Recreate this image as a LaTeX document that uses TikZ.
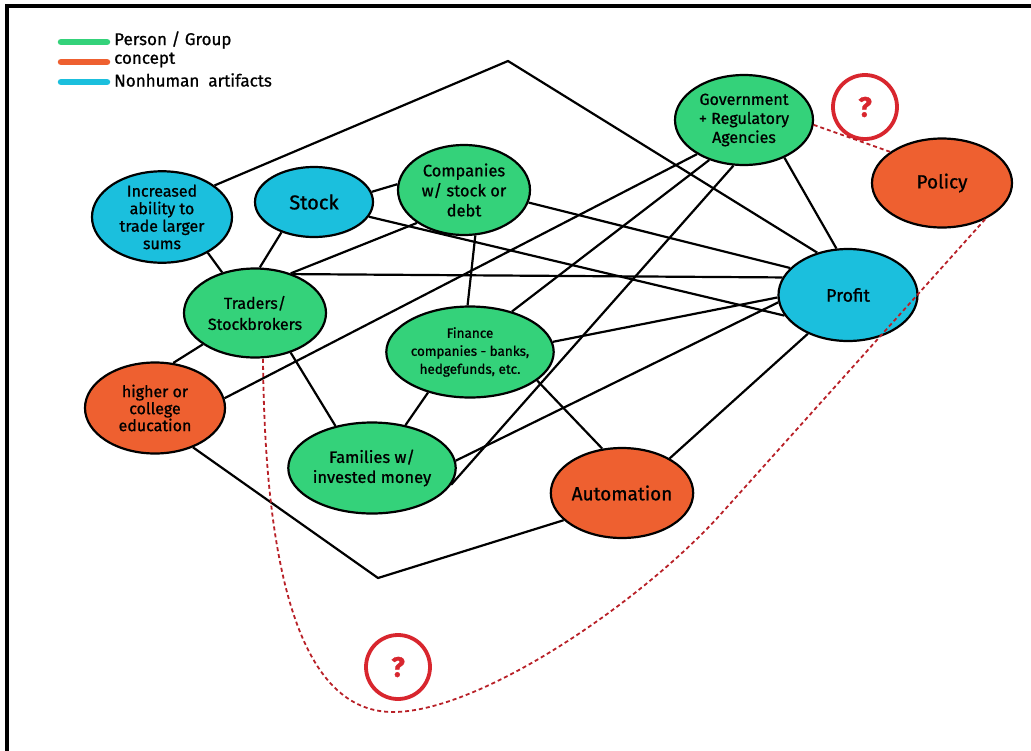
\documentclass[tikz,border=0pt]{standalone}
\usepackage{fontspec}
\setmainfont{Fira Sans}[FakeBold=0.9]
\usetikzlibrary{shapes.geometric,backgrounds}
\definecolor{pgreen}{HTML}{34D27A}
\definecolor{corange}{HTML}{EE6030}
\definecolor{nblue}{HTML}{1BBFDD}
\definecolor{qred}{HTML}{D8262E}
\begin{document}
\begin{tikzpicture}[x=1pt,y=-1pt,
  ent/.style={ellipse, draw=black, line width=2.2pt, inner sep=0pt, align=center, text=black},
  person/.style={ent, fill=pgreen},
  concept/.style={ent, fill=corange},
  artifact/.style={ent, fill=nblue},
  link/.style={line width=2.2pt, black},
  qdash/.style={qred!85!black, line width=1.8pt, dash pattern=on 4pt off 3pt},
  qmark/.style={circle, draw=qred, line width=3.8pt, minimum size=64pt, inner sep=0pt, text=qred, font=\fontsize{28}{28}\selectfont\bfseries},
  legline/.style={line width=6.5pt, line cap=round},
  legtext/.style={anchor=west, font=\fontsize{17}{17}\selectfont, inner sep=0pt}]

\useasboundingbox (0,0) rectangle (1031,750);
\draw[line width=4pt] (7,6) rectangle (1045,770);

% legend
\draw[legline, pgreen] (61,42) -- (107,42);
\draw[legline, corange] (61,62) -- (107,62);
\draw[legline, nblue] (61,82) -- (107,82);
\node[legtext] (l1) at (114,40) {Person / Group};
\node[legtext] (l2) at (114,60) {concept};
\node[legtext] (l3) at (114,80) {Nonhuman\ \ artifacts};

% nodes
\node[artifact, minimum width=140pt, minimum height=90pt, font=\fontsize{16}{17.5}\selectfont] (inc) at (162,217) {Increased\\ability to\\trade larger\\sums};
\node[artifact, minimum width=118pt, minimum height=70pt, font=\fontsize{20}{22}\selectfont] (stock) at (314,202) {Stock};
\node[person, minimum width=132pt, minimum height=90pt, font=\fontsize{16.5}{20}\selectfont] (comp) at (464,190) {Companies\\w/ stock or\\debt};
\node[person, minimum width=138pt, minimum height=90pt, font=\fontsize{16}{19}\selectfont] (gov) at (744,120) {Government\\+ Regulatory\\Agencies};
\node[concept, minimum width=140pt, minimum height=89pt, font=\fontsize{19}{22}\selectfont] (policy) at (942,183) {Policy};
\node[artifact, minimum width=139pt, minimum height=92pt, font=\fontsize{18}{22}\selectfont] (profit) at (848,295) {Profit};
\node[person, minimum width=142pt, minimum height=89pt, font=\fontsize{16}{21}\selectfont] (trad) at (255,313) {Traders/\\Stockbrokers};
\node[person, minimum width=139pt, minimum height=91pt, font=\fontsize{13.5}{18}\selectfont] (fin) at (470,352) {Finance\\companies - banks,\\hedgefunds, etc.};
\node[concept, minimum width=140pt, minimum height=91pt, font=\fontsize{16}{17}\selectfont] (edu) at (155,408) {higher or\\college\\education};
\node[person, minimum width=139pt, minimum height=91pt, font=\fontsize{16.5}{20}\selectfont] (fam) at (372,468) {Families w/\\invested money};
\node[concept, minimum width=140pt, minimum height=90pt, font=\fontsize{19}{22}\selectfont] (auto) at (622,493) {Automation};

\node[qmark] (q1) at (865,107) {?};
\node[qmark] (q2) at (398,667) {?};

\coordinate (top) at (508,61);
\coordinate (bot) at (378,578);
\coordinate (bend) at (720,515);

\begin{scope}[on background layer]
\draw[link] (inc.31) -- (top) -- (profit.126);
\draw[link] (edu.-46) -- (bot) -- (auto.205);
\draw[link] (inc.-38) -- (trad.129);
\draw[link] (stock.223) -- (trad.84);
\draw[link] (stock.10) -- (comp.175);
\draw[link] (stock.-15) -- (profit.198);
\draw[link] (trad.48) -- (comp.215);
\draw[link] (trad.46) -- (profit.165);
\draw[link] (edu.68) -- (trad.211);
\draw[link] (edu.8) -- (gov.216);
\draw[link] (trad.-48) -- (fam.131);
\draw[link] (comp.-76) -- (fin.93);
\draw[link] (comp.-11) -- (profit.155);
\draw[link] (fin.44) -- (gov.229);
\draw[link] (fin.7) -- (profit.182);
\draw[link] (fin.224) -- (fam.52);
\draw[link] (fin.-23) -- (auto.114);
\draw[link] (fam.-12) -- (gov.257);
\draw[link] (fam.5) -- (profit.186);
\draw[link] (auto.36) -- (profit.224);
\draw[link] (gov.-43) -- (profit.104);
\end{scope}

\draw[qdash] (gov.-4) -- (policy.149);
\draw[qdash] (policy.-40) -- (bend) .. controls (640,603) and (480,712) .. (393,712) .. controls (310,712) and (265,600) .. (trad.-80);
\end{tikzpicture}
\end{document}
